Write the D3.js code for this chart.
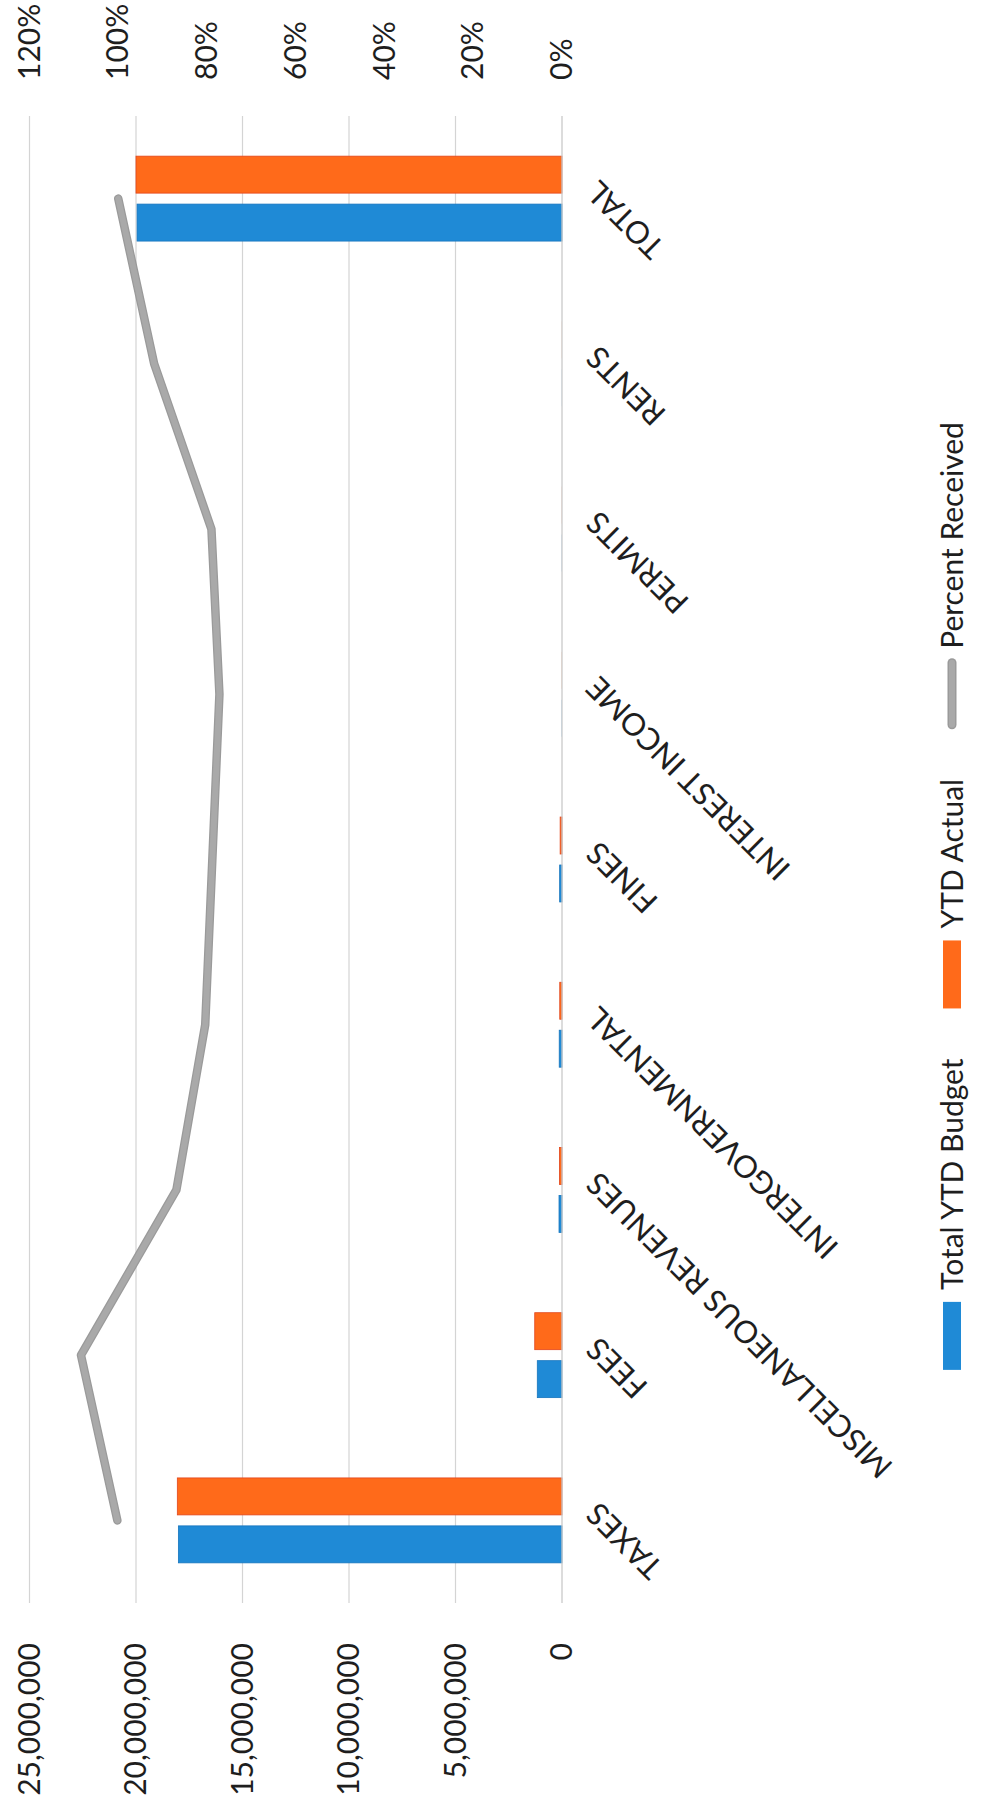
<!DOCTYPE html>
<meta charset="utf-8">
<style>
  body { margin: 0; background: #fff; }
  svg text { font-family: Lato, "Open Sans", sans-serif; fill: #1e1e1e; }
</style>
<body>
<script src="https://d3js.org/d3.v7.min.js"></script>
<script>

var categories = ["TAXES", "FEES", "MISCELLANEOUS REVENUES", "INTERGOVERNMENTAL",
                  "FINES", "INTEREST INCOME", "PERMITS", "RENTS", "TOTAL"];
var budget  = [18010000, 1160000, 140000, 130000, 110000, 10000, 8000, 5000, 19950000];
var actual  = [18060000, 1280000, 122000, 105000,  87000,  7700, 6300, 4600, 20000000];
var percent = [1.002, 1.084, 0.869, 0.804, 0.788, 0.772, 0.79, 0.919, 1.0];

var valueTicks = [0, 5000000, 10000000, 15000000, 20000000, 25000000];
var percentTicks = [0, 0.2, 0.4, 0.6, 0.8, 1.0, 1.2];
var seriesNames = ["Total YTD Budget", "YTD Actual", "Percent Received"];
var colors = ["#1f8ad6", "#ff6a1a", "#a9a9a9"];

var pageW = 981, pageH = 1818;
// the chart is drawn landscape and then turned a quarter turn, like the scanned page
var plotLeft = 215, plotRight = 1702, plotTop = 29.5, plotBottom = 562;

var svg = d3.select("body").append("svg")
    .attr("width", pageW)
    .attr("height", pageH);

var g = svg.append("g")
    .attr("transform", "translate(0," + pageH + ") rotate(-90)");

var x0 = d3.scaleBand()
    .domain(categories)
    .range([plotLeft, plotRight])
    .paddingInner(0.486)
    .paddingOuter(0.243);

var x1 = d3.scaleBand()
    .domain([0, 1])
    .range([0, x0.bandwidth()])
    .paddingInner(0.229);

var y = d3.scaleLinear().domain([0, 25000000]).range([plotBottom, plotTop]);
var yp = d3.scaleLinear().domain([0, 1.2]).range([plotBottom, plotTop]);

// gridlines
g.append("g").selectAll("line")
    .data(valueTicks.slice(1))
  .enter().append("line")
    .attr("x1", plotLeft).attr("x2", plotRight)
    .attr("y1", d => y(d)).attr("y2", d => y(d))
    .attr("stroke", "#d4d4d4")
    .attr("stroke-width", 1.2);

// bars
var rows = categories.map((c, i) => ({cat: c, vals: [budget[i], actual[i]]}));
var strokes = ["#1675bd", "#e2461c"];

g.append("g").selectAll("g")
    .data(rows)
  .enter().append("g")
    .attr("transform", d => "translate(" + x0(d.cat) + ",0)")
  .selectAll("rect")
    .data(d => d.vals.map((v, k) => ({k: k, v: v})))
  .enter().append("rect")
    .attr("x", d => x1(d.k))
    .attr("width", x1.bandwidth())
    .attr("y", d => y(d.v))
    .attr("height", d => y(0) - y(d.v))
    .attr("fill", d => colors[d.k])
    .attr("stroke", d => y(0) - y(d.v) > 1 ? strokes[d.k] : "none")
    .attr("stroke-width", 0.8);

// category axis line
g.append("line")
    .attr("x1", plotLeft).attr("x2", plotRight)
    .attr("y1", y(0)).attr("y2", y(0))
    .attr("stroke", "#c9c9c9")
    .attr("stroke-width", 1.3);

// percent line
var line = d3.line()
    .x((d, i) => x0(categories[i]) + x0.bandwidth() / 2)
    .y(d => yp(d));

g.append("path")
    .datum(percent)
    .attr("d", line)
    .attr("fill", "none")
    .attr("stroke", "#9a9a9a")
    .attr("stroke-width", 8.5)
    .attr("stroke-linecap", "round")
    .attr("stroke-linejoin", "round");
g.append("path")
    .datum(percent)
    .attr("d", line)
    .attr("fill", "none")
    .attr("stroke", colors[2])
    .attr("stroke-width", 6)
    .attr("stroke-linecap", "round")
    .attr("stroke-linejoin", "round");

// left value axis
var leftAxis = g.append("g")
    .attr("transform", "translate(" + plotLeft + ",0)")
    .call(d3.axisLeft(y).tickValues(valueTicks).tickFormat(d3.format(",")).tickSize(0).tickPadding(40));
leftAxis.select(".domain").remove();
leftAxis.attr("font-size", 30).attr("font-family", null);

// right percent axis
var rightAxis = g.append("g")
    .attr("transform", "translate(" + plotRight + ",0)")
    .call(d3.axisRight(yp).tickValues(percentTicks).tickFormat(d3.format(".0%")).tickSize(0).tickPadding(36));
rightAxis.select(".domain").remove();
rightAxis.attr("font-size", 30).attr("font-family", null);

// category labels
var bottomAxis = g.append("g")
    .attr("transform", "translate(0," + plotBottom + ")")
    .call(d3.axisBottom(x0).tickSize(0));
bottomAxis.select(".domain").remove();
bottomAxis.attr("font-size", 31).attr("font-family", null);
bottomAxis.selectAll("text")
    .attr("x", 0).attr("y", 0).attr("dy", "0.35em")
    .attr("text-anchor", "end")
    .attr("transform", "translate(12,30) rotate(-45)");

// legend
var legend = g.append("g").attr("transform", "translate(0,952)");
var lx = 0;
seriesNames.forEach(function(name, i) {
  var item = legend.append("g").attr("transform", "translate(" + lx + ",0)");
  if (i < 2) {
    item.append("rect")
        .attr("x", 0).attr("y", -9).attr("width", 68).attr("height", 18)
        .attr("fill", colors[i]);
  } else {
    item.append("line")
        .attr("x1", 4).attr("x2", 66).attr("y1", 0).attr("y2", 0)
        .attr("stroke", "#9a9a9a").attr("stroke-width", 9)
        .attr("stroke-linecap", "round");
    item.append("line")
        .attr("x1", 4).attr("x2", 66).attr("y1", 0).attr("y2", 0)
        .attr("stroke", colors[2]).attr("stroke-width", 6)
        .attr("stroke-linecap", "round");
  }
  var t = item.append("text")
      .attr("x", 80).attr("y", 0).attr("dy", "0.35em")
      .attr("font-size", 30)
      .text(name);
  lx += 80 + t.node().getComputedTextLength() + 50;
});
var legendW = lx - 50;
legend.attr("transform", "translate(" + (922 - legendW / 2) + ",952)");

</script>
